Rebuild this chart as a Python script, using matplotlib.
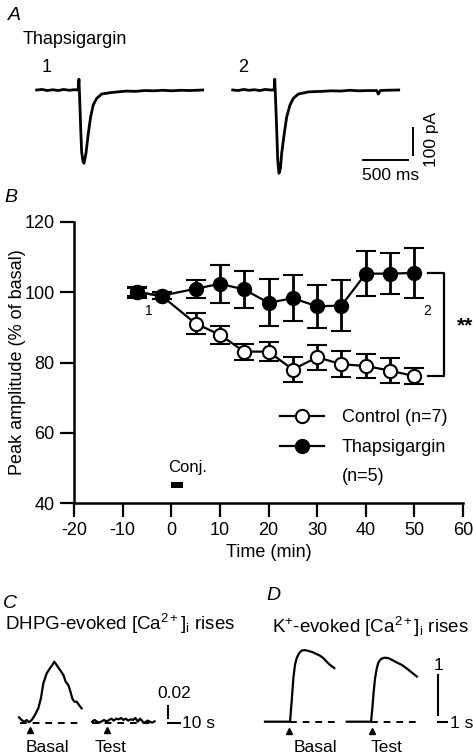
import matplotlib.pyplot as plt
from matplotlib.lines import Line2D

plt.rcParams['font.family'] = ['Liberation Sans', 'DejaVu Sans']
plt.rcParams['mathtext.fontset'] = 'custom'
plt.rcParams['mathtext.rm'] = 'Liberation Sans'
plt.rcParams['mathtext.it'] = 'Liberation Sans:italic'
plt.rcParams['axes.unicode_minus'] = False

W, H = 473, 756

# ---- panel A: EPSC traces (ms, pA)
epsc1_t = [0, 60, 120, 180, 240, 300, 360, 420, 460, 470, 481, 490, 500, 514, 526,
           548, 574, 600, 629, 667, 722, 814, 900, 1000, 1100, 1200, 1300, 1400,
           1500, 1600, 1700, 1844]
epsc1 = [0, 2, -2, 1, -2, 2, -1, 1, 0, 40, -60, -150, -230, -262, -271,
         -234, -160, -99, -55, -31, -15, -10, -7, -4, -5, -2, -3, -1,
         -3, -1, -2, 0]
epsc2_t = [0, 60, 120, 180, 240, 300, 360, 420, 460, 467, 478, 489, 500, 514, 530,
           544, 573, 600, 637, 673, 729, 840, 989, 1100, 1200, 1300, 1400, 1500,
           1600, 1617, 1640, 1700, 1844]
epsc2 = [0, -2, 2, -1, 1, -2, 2, 0, 0, 40, -50, -150, -260, -308, -290,
         -234, -160, -99, -55, -31, -15, -7, -5, -3, -4, -1, -3, -2,
         -2, -15, -2, -1, 0]
epsc2_offset = 2178

# ---- panel B: time course
time_min = [-7, -2, 5, 10, 15, 20, 25, 30, 35, 40, 45, 50]
control_mean = [100, 99, 91.1, 87.9, 83.1, 83.1, 78.0, 81.5, 79.5, 79.0, 77.7, 76.1]
control_sem = [1.2, 1.0, 3.0, 2.5, 2.3, 2.8, 3.5, 3.6, 3.7, 3.5, 3.6, 2.3]
thapsi_mean = [100, 99, 101.0, 102.4, 100.8, 97.0, 98.3, 96.0, 96.2, 105.3, 105.3, 105.5]
thapsi_sem = [1.5, 1.0, 2.5, 5.5, 5.3, 6.7, 6.5, 6.2, 7.2, 6.5, 5.9, 7.0]
conj = (0, 2.5)

# ---- panel C: DHPG-evoked rises (s, dF/F)
dhpg_basal_t = [0, 2.25, 4.4, 6.4, 8.3, 10.6, 13.3, 16.1, 18.3, 20.3, 23.1, 25.8, 27.8,
                29.4, 31.4, 34.2, 37, 38.9, 41.1, 42.5, 44.4, 46.1, 48.1, 50, 52.2]
dhpg_basal = [0.0103, 0.0056, 0.0027, 0.0056, 0.0017, 0.0056, 0.0142, 0.0256, 0.0427,
              0.0684, 0.0855, 0.094, 0.0997, 0.1054, 0.0997, 0.0912, 0.0826, 0.0712,
              0.0655, 0.057, 0.0427, 0.037, 0.037, 0.0313, 0.0256]
dhpg_test_t = [0, 2, 4, 6, 8, 10, 12, 14, 16, 18, 20, 22, 24, 26, 28, 30, 32, 34, 36,
               38, 40, 42, 44, 46, 48, 50, 52]
dhpg_test = [0.0029, 0.0057, 0.0029, 0.0011, 0.0034, 0.0057, 0.0029, 0.0057, 0.008,
             0.0046, 0.008, 0.0068, 0.0091, 0.0057, 0.008, 0.0046, 0.0068, 0.0057,
             0.0091, 0.0029, 0.008, 0.0029, 0.0011, 0.0046, 0.0029, 0.0011, 0.0034]
dhpg_test_offset = 61
dhpg_stim = [9.2, 12.5]

# ---- panel D: K+-evoked rises
k_basal_t = [0, 2.78, 2.96, 3.15, 3.33, 3.52, 3.78, 4.08, 4.44, 4.81, 5.26, 5.74,
             6.11, 6.48, 6.85, 7.22, 7.70]
k_basal = [0, 0, 0.5, 1.09, 1.42, 1.59, 1.71, 1.78, 1.79, 1.77, 1.74, 1.69,
           1.65, 1.59, 1.50, 1.42, 1.34]
k_test_t = [0, 2.70, 2.84, 2.99, 3.14, 3.33, 3.51, 3.81, 4.18, 4.62, 5.07, 5.56,
            6.11, 6.67, 7.22, 7.78]
k_test = [0, 0, 0.33, 0.75, 1.08, 1.33, 1.48, 1.57, 1.60, 1.59, 1.54, 1.48,
          1.42, 1.33, 1.23, 1.13]
k_test_offset = 9.08
k_stim = [2.7, 2.78]


def px_axes(x0, y0, x1, y1):
    return fig.add_axes([x0 / W, 1 - y1 / H, (x1 - x0) / W, (y1 - y0) / H])


def ftext(x, y, s, **kw):
    kw.setdefault('va', 'center')
    fig.text(x / W, 1 - y / H, s, **kw)


fig = plt.figure(figsize=(W / 100, H / 100), dpi=100)

# ---------------- A
axA = px_axes(20, 50, 470, 190)
axA.plot(epsc1_t, epsc1, color='k', lw=2.0)
axA.plot([t + epsc2_offset for t in epsc2_t], epsc2, color='k', lw=2.0)
axA.plot([3625, 4125], [-259, -259], color='k', lw=1.4)
axA.plot([4177, 4177], [-240.5, -140.5], color='k', lw=1.4)
axA.set_xlim(-185, 4814)
axA.set_ylim(-370, 148)
axA.axis('off')

ftext(8, 15, 'A', fontsize=14, style='italic')
ftext(23, 39, 'Thapsigargin', fontsize=13)
ftext(42, 68, '1', fontsize=13)
ftext(238, 68, '2', fontsize=13)
ftext(391, 175, '500 ms', fontsize=12.5, ha='center')
ftext(431, 139, '100 pA', fontsize=12.5, ha='center', rotation=90)

# ---------------- B
ftext(4, 197, 'B', fontsize=14, style='italic')
ax = px_axes(74, 222, 463, 503)
ax.errorbar(time_min, control_mean, yerr=control_sem, fmt='o-', color='k', mfc='white',
            mec='k', ms=9.5, mew=1.5, lw=1.6, elinewidth=2, capsize=7, capthick=2,
            zorder=3)
ax.errorbar(time_min, thapsi_mean, yerr=thapsi_sem, fmt='o-', color='k', mfc='k',
            mec='k', ms=9.5, mew=1.5, lw=1.6, elinewidth=2, capsize=7, capthick=2,
            zorder=4)
ax.set_xlim(-20, 60)
ax.set_ylim(40, 120)
ax.set_xticks(range(-20, 61, 10))
ax.set_yticks(range(40, 121, 20))
for s in ['top', 'right']:
    ax.spines[s].set_visible(False)
for s in ['left', 'bottom']:
    ax.spines[s].set_linewidth(1.8)
ax.tick_params(length=10, width=1.6, labelsize=13, pad=4)
ax.set_xlabel('Time (min)', fontsize=13, labelpad=3)
ax.set_ylabel('Peak amplitude (% of basal)', fontsize=13, labelpad=-1)

# conditioning bar
ax.fill_between(conj, 44.2, 45.9, color='k', lw=0)
ax.text(-0.6, 50, 'Conj.', fontsize=12, va='center')
ax.text(-4.6, 94.8, '1', fontsize=10, ha='center', va='center')
ax.text(52.6, 94.8, '2', fontsize=10, ha='center', va='center')

# significance bracket
top, bot = thapsi_mean[-1], control_mean[-1]
ax.plot([52.8, 56.1, 56.1, 52.8], [top, top, bot, bot], color='k', lw=1.6, clip_on=False)
ax.text(58.8, (top + bot) / 2 - 0.5, '**', fontsize=15, fontweight='bold', va='center')

handles = [Line2D([], [], color='k', marker='o', mfc='white', mec='k', ms=9.5, mew=1.5, lw=1.6),
           Line2D([], [], color='k', marker='o', mfc='k', mec='k', ms=9.5, mew=1.5, lw=1.6)]
ax.legend(handles, ['Control (n=7)', 'Thapsigargin'], loc='upper left',
          bbox_to_anchor=(0.53, 0.335), frameon=False, fontsize=13, handlelength=2.4,
          handletextpad=1.0, borderpad=0, borderaxespad=0, labelspacing=0.75)
ax.text(0.688, 0.095, '(n=5)', fontsize=13, transform=ax.transAxes, va='center')

# ---------------- C
ftext(3, 603, 'C', fontsize=14, style='italic')
ftext(5, 624, r'DHPG-evoked [Ca$^{2+}$]$_\mathregular{i}$ rises', fontsize=13.5)
axC = px_axes(0, 635, 235, 756)
axC.plot(dhpg_basal_t, dhpg_basal, color='k', lw=1.6)
axC.plot([t + dhpg_test_offset for t in dhpg_test_t], dhpg_test, color='k', lw=1.6)
axC.plot([0.8, 52.5], [0, 0], color='k', lw=1.4, dashes=(3.5, 3))
axC.plot([dhpg_test_offset, dhpg_test_offset + 52], [0, 0], color='k', lw=1.4, dashes=(3.5, 3))
axC.plot([dhpg_stim[0], dhpg_test_offset + dhpg_stim[1]], [-0.0115, -0.0115], '^',
         color='k', ms=4.5)
axC.plot([124, 124], [0.009, 0.029], color='k', lw=1.5)
axC.plot([124, 134], [0, 0], color='k', lw=1.5)
axC.set_xlim(-15.8, 180)
axC.set_ylim(-0.0559, 0.151)
axC.axis('off')
ftext(174, 694, '0.02', fontsize=12.5, ha='center')
ftext(182, 723, '10 s', fontsize=12.5)
ftext(47, 748, 'Basal', fontsize=12.5, ha='center')
ftext(111, 748, 'Test', fontsize=12.5, ha='center')

# ---------------- D
ftext(266, 595, 'D', fontsize=14, style='italic')
ftext(272, 627, r'K$^{+}$-evoked [Ca$^{2+}$]$_\mathregular{i}$ rises', fontsize=13.5)
axD = px_axes(255, 635, 473, 756)
axD.plot(k_basal_t, k_basal, color='k', lw=1.6)
axD.plot([t + k_test_offset for t in k_test_t], k_test, color='k', lw=1.6)
axD.plot([2.78, 7.9], [0, 0], color='k', lw=1.4, dashes=(3.5, 3))
axD.plot([k_test_offset + 2.7, k_test_offset + 7.9], [0, 0], color='k', lw=1.4, dashes=(3.5, 3))
axD.plot([k_stim[0], k_test_offset + k_stim[1]], [-0.23, -0.23], '^', color='k', ms=4.5)
axD.plot([19.2, 19.2], [0.17, 1.17], color='k', lw=1.5)
axD.plot([19.2, 20.2], [0, 0], color='k', lw=1.5)
axD.set_xlim(-1.11, 23.1)
axD.set_ylim(-0.8575, 2.1675)
axD.axis('off')
ftext(438, 666, '1', fontsize=12.5, ha='center')
ftext(450, 723, '1 s', fontsize=12.5)
ftext(315, 748, 'Basal', fontsize=12.5, ha='center')
ftext(387, 748, 'Test', fontsize=12.5, ha='center')

fig.savefig('out.png', dpi=100)
